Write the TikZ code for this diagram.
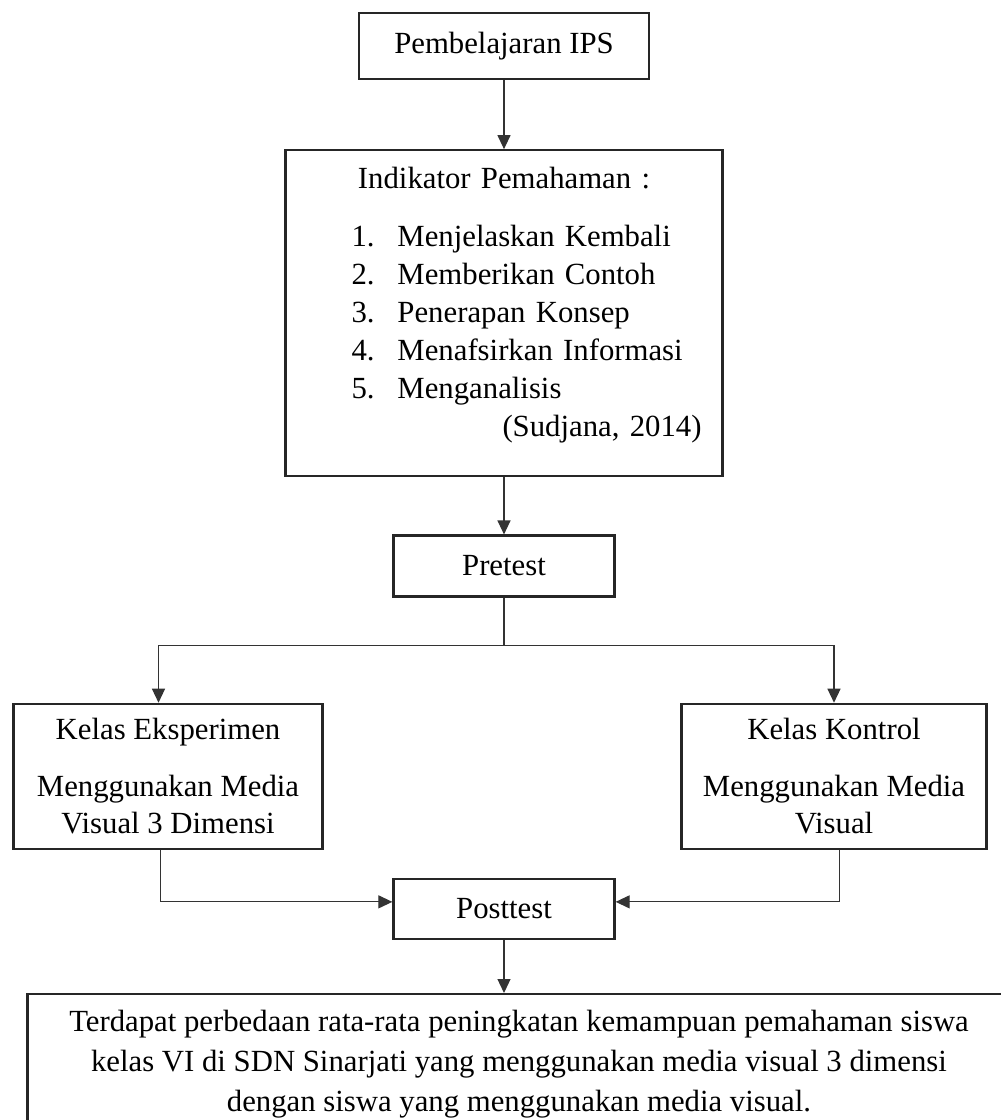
\documentclass[tikz,border=0pt]{standalone}
\usepackage{fontspec}
\setmainfont{Liberation Serif}
\usepackage{tikz}
\usetikzlibrary{positioning,arrows.meta}
\tikzset{
    alurbox/.style={draw=black!85, line width=1.3pt, rectangle, align=center, inner sep=0pt, font=\fontsize{17.5pt}{21pt}\selectfont},
    alursmall/.style={alurbox, minimum width=4.42cm, minimum height=1.22cm},
    alurkelas/.style={alurbox, minimum height=2.9cm},
    alurlist/.style={alurbox, align=left, text width=8.74cm, text depth=5.42cm, minimum height=6.52cm, font=\fontsize{17.5pt}{21.6pt}\selectfont},
    alurhasil/.style={alurbox, minimum width=19.66cm, minimum height=2.8cm, font=\fontsize{17.5pt}{22.8pt}\selectfont},
    alurarrow/.style={draw=black!80, line width=0.7pt, -{Triangle[length=0.28cm, width=0.26cm]}},
    alurline/.style={draw=black!80, line width=0.7pt}
}
\begin{document}
\begin{tikzpicture}
    \useasboundingbox (0,0) rectangle (20,-22.4);
    \node[alurbox, minimum width=5.8cm, minimum height=1.32cm] (ips) at (10.08,-0.92) {Pembelajaran IPS};
    \node[alurlist, below=1.38cm of ips] (indikator) {\makebox[\linewidth]{Indikator Pemahaman :}\\[0.4cm]
        \hspace*{1.32cm}\makebox[0.92cm][l]{1.}Menjelaskan Kembali\\
        \hspace*{1.32cm}\makebox[0.92cm][l]{2.}Memberikan Contoh\\
        \hspace*{1.32cm}\makebox[0.92cm][l]{3.}Penerapan Konsep\\
        \hspace*{1.32cm}\makebox[0.92cm][l]{4.}Menafsirkan Informasi\\
        \hspace*{1.32cm}\makebox[0.92cm][l]{5.}Menganalisis\\
        \makebox[\linewidth][r]{(Sudjana, 2014)\hspace*{0.42cm}}};
    \node[alursmall, below=1.14cm of indikator] (pretest) {Pretest};
    \coordinate[below=0.96cm of pretest] (cabang);
    \node[alurkelas, minimum width=6.18cm, below=2.1cm of pretest, xshift=-6.72cm] (eksp) {Kelas Eksperimen\\[0.4cm]Menggunakan Media\\Visual 3 Dimensi};
    \node[alurkelas, minimum width=6.1cm, below=2.1cm of pretest, xshift=6.6cm] (kontrol) {Kelas Kontrol\\[0.4cm]Menggunakan Media\\Visual};
    \node[alursmall, minimum height=1.2cm, below=5.6cm of pretest] (posttest) {Posttest};
    \node[alurhasil, below=1.06cm of posttest, xshift=0.3cm] (hasil) {Terdapat perbedaan rata-rata peningkatan kemampuan pemahaman siswa\\kelas VI di SDN Sinarjati yang menggunakan media visual 3 dimensi\\dengan siswa yang menggunakan media visual.};

    \draw[alurarrow] (ips) -- (indikator);
    \draw[alurarrow] (indikator) -- (pretest);
    \draw[alurline] (pretest) -- (cabang);
    \draw[alurarrow] (cabang) -| ([xshift=-0.19cm]eksp.north);
    \draw[alurarrow] (cabang) -| (kontrol.north);
    \draw[alurarrow] ([xshift=-0.15cm]eksp.south) |- ([yshift=0.14cm]posttest.west);
    \draw[alurarrow] ([xshift=0.11cm]kontrol.south) |- ([yshift=0.14cm]posttest.east);
    \draw[alurarrow] (posttest) -- (posttest |- hasil.north);
\end{tikzpicture}
\end{document}
